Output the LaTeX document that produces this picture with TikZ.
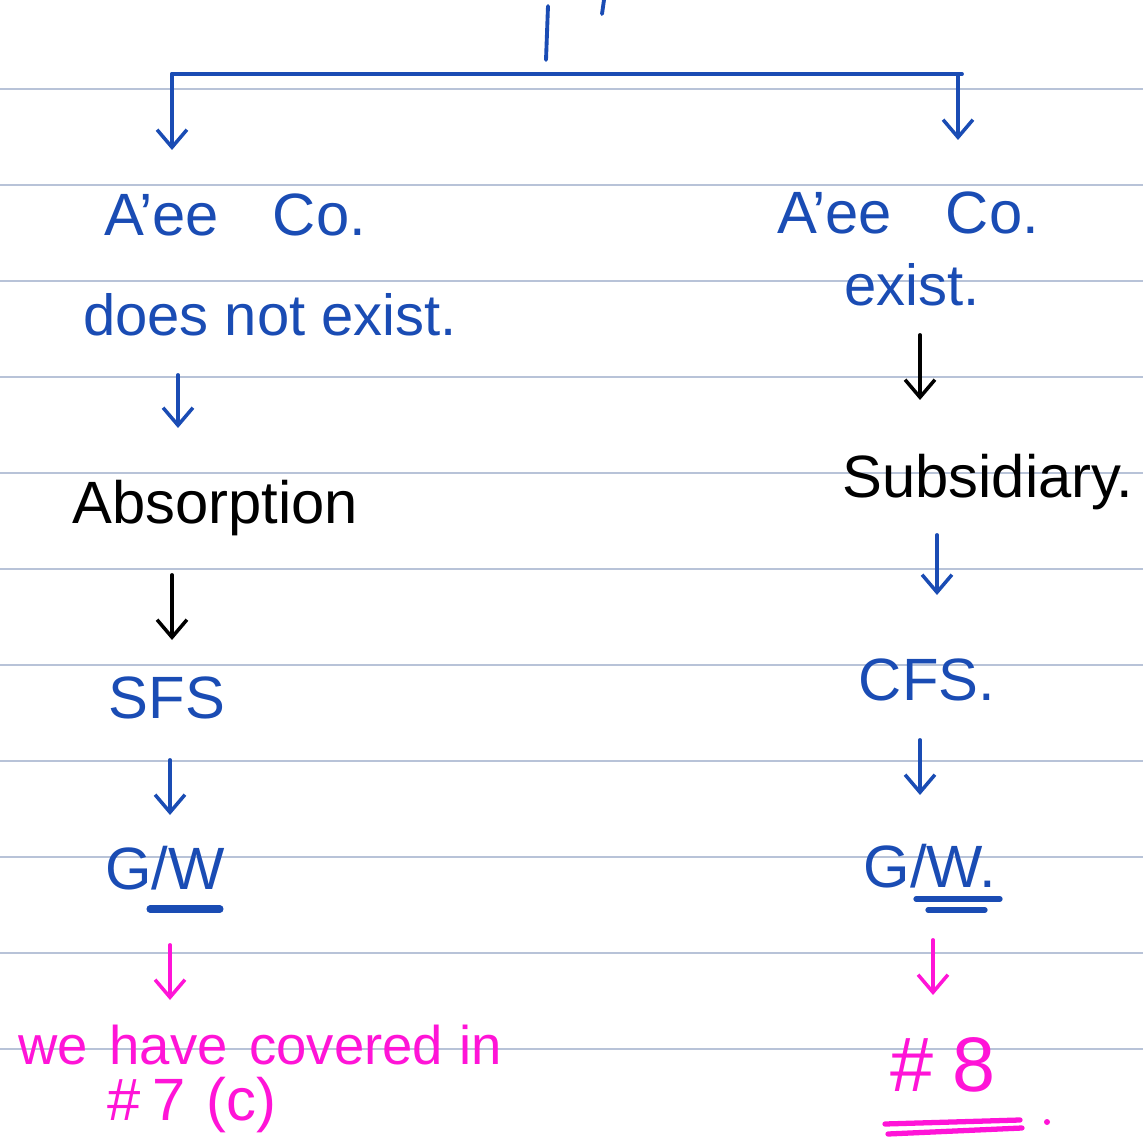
\documentclass[tikz,border=0pt]{standalone}
\usepackage{fontspec}
\setmainfont{Liberation Sans}
\usetikzlibrary{arrows.meta}
\definecolor{ink}{RGB}{26,76,180}
\definecolor{pinkink}{RGB}{255,20,215}
\definecolor{ruleline}{RGB}{184,195,216}
\begin{document}
\begin{tikzpicture}[x=0.02cm,y=-0.02cm,
  hand/.style={line width=2.2pt, line cap=round, line join=round},
  darrow/.style={hand, -{Straight Barb[length=10pt, width=17pt, line width=2pt]}},
  txt/.style={inner sep=0pt, anchor=center},
  big/.style={font=\fontsize{34}{40}\selectfont},
  mid/.style={font=\fontsize{33}{38}\selectfont}]
\useasboundingbox (0,0) rectangle (1143,1138);
\fill[white] (0,0) rectangle (1143,1138);
% ruled lines
\foreach \y in {89,185,281,377,473,569,665,761,857,953,1049}
  \draw[ruleline, line width=0.9pt] (0,\y) -- (1143,\y);

% top strokes
\coordinate (top1) at (548,6);
\coordinate (top2) at (546,60);
\draw[hand, ink] (top1) -- (top2);
\coordinate (tick1) at (604,0);
\coordinate (tick2) at (602,14);
\draw[hand, ink] (tick1) -- (tick2);

% bracket
\coordinate (bl) at (172,74);
\coordinate (br) at (962,74);
\coordinate (blend) at (172,150);
\coordinate (brend) at (958,140);
\draw[hand, ink] (bl) -- (br);
\draw[darrow, ink] (bl) -- (blend);
\draw[darrow, ink] (br) ++(-4,0) -- (brend);

% left column
\node[txt, big, ink] (acl) at (235,215) {A'ee\hspace{0.9em}Co.};
\node[txt, mid, ink] (dne) at (270,315) {does not exist.};
\node[txt, big] (abs) at (215,508) {Absorption};
\node[txt, big, ink] (sfs) at (167,698) {SFS};
\node[txt, big, ink] (gwl) at (165,868) {G/W};
\node[txt, font=\fontsize{31}{36}\selectfont, pinkink] (we) at (260,1045) {we\hspace{0.4em}have\hspace{0.4em}covered\hspace{0.3em}in};
\node[txt, font=\fontsize{34}{40}\selectfont, pinkink] (h7) at (192,1105) {\#\hspace{0.2em}7\hspace{0.35em}(c)};

\coordinate (la1s) at (178,375); \coordinate (la1e) at (178,428);
\coordinate (la2s) at (172,575); \coordinate (la2e) at (172,640);
\coordinate (la3s) at (170,760); \coordinate (la3e) at (170,815);
\coordinate (la4s) at (170,945); \coordinate (la4e) at (170,1000);
\draw[darrow, ink] (la1s) -- (la1e);
\draw[darrow, black] (la2s) -- (la2e);
\draw[darrow, ink] (la3s) -- (la3e);
\draw[darrow, pinkink] (la4s) -- (la4e);
% underline G/W left
\coordinate (ul1) at (150,909); \coordinate (ul2) at (220,909);
\draw[ink, line width=4pt, line cap=round] (ul1) -- (ul2);

% right column
\node[txt, big, ink] (acr) at (908,213) {A'ee\hspace{0.9em}Co.};
\node[txt, mid, ink] (ex) at (912,285) {exist.};
\node[txt, big] (sub) at (988,482) {Subsidiary.};
\node[txt, big, ink] (cfs) at (927,680) {CFS.};
\node[txt, big, ink] (gwr) at (930,866) {G/W.};
\node[txt, font=\fontsize{44}{50}\selectfont, pinkink] (h8) at (943,1065) {\#\hspace{0.25em}8};

\coordinate (ra1s) at (920,335); \coordinate (ra1e) at (920,400);
\coordinate (ra2s) at (937,535); \coordinate (ra2e) at (937,595);
\coordinate (ra3s) at (920,740); \coordinate (ra3e) at (920,795);
\coordinate (ra4s) at (933,940); \coordinate (ra4e) at (933,995);
\draw[darrow, black] (ra1s) -- (ra1e);
\draw[darrow, ink] (ra2s) -- (ra2e);
\draw[darrow, ink] (ra3s) -- (ra3e);
\draw[darrow, pinkink] (ra4s) -- (ra4e);
% double underline G/W right
\coordinate (ur1) at (916,899); \coordinate (ur2) at (1000,899);
\coordinate (ur3) at (928,910); \coordinate (ur4) at (985,910);
\draw[hand, ink, line width=3pt] (ur1) -- (ur2);
\draw[hand, ink, line width=3pt] (ur3) -- (ur4);
% double underline #8
\coordinate (uh1) at (885,1124); \coordinate (uh2) at (1020,1120);
\coordinate (uh3) at (888,1134); \coordinate (uh4) at (1022,1128);
\draw[hand, pinkink, line width=3pt] (uh1) -- (uh2);
\draw[hand, pinkink, line width=3pt] (uh3) -- (uh4);
\fill[pinkink] (1047,1122) circle (3);
\end{tikzpicture}
\end{document}
